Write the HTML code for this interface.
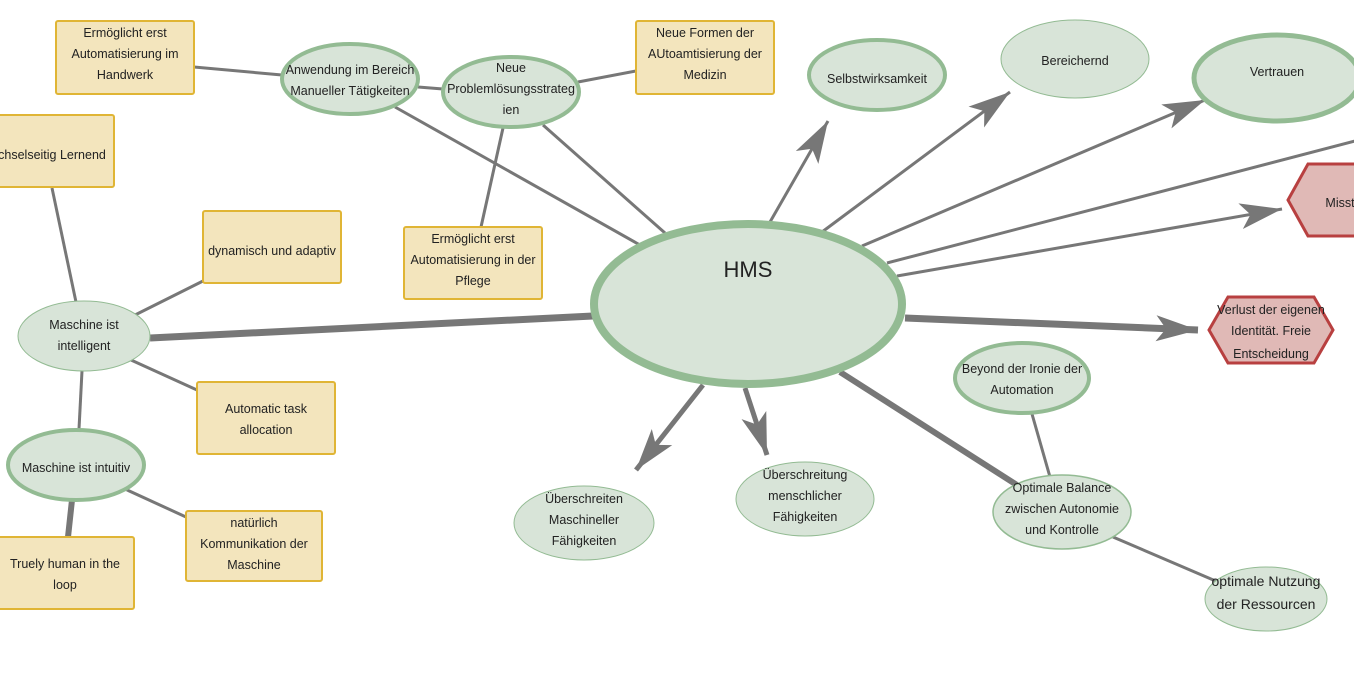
<!DOCTYPE html>
<html><head><meta charset="utf-8"><style>
html,body{margin:0;padding:0;background:#fff;}
svg{display:block;}
text{font-family:"Liberation Sans",sans-serif;font-size:12.5px;fill:#222;text-anchor:middle;}
</style></head><body>
<svg width="1359" height="700" viewBox="0 0 1359 700" xmlns="http://www.w3.org/2000/svg">
<defs>
<marker id="a" markerUnits="userSpaceOnUse" markerWidth="44" markerHeight="30" refX="42" refY="15" orient="auto" viewBox="0 0 44 30">
<path d="M0,2 L42,15 L0,28 L10,15 z" fill="#777"/>
</marker>
</defs>
<g stroke="#777" fill="none" stroke-linecap="butt">
<line x1="395" y1="107" x2="640" y2="245" stroke-width="3"/>
<line x1="543" y1="125" x2="665" y2="233" stroke-width="3"/>
<line x1="770" y1="222" x2="828" y2="121" stroke-width="3" marker-end="url(#a)"/>
<line x1="822" y1="232" x2="1010" y2="92" stroke-width="3" marker-end="url(#a)"/>
<line x1="862" y1="246" x2="1205" y2="100" stroke-width="3" marker-end="url(#a)"/>
<line x1="887" y1="263" x2="1359" y2="140" stroke-width="3"/>
<line x1="897" y1="276" x2="1282" y2="209" stroke-width="3" marker-end="url(#a)"/>
<line x1="905" y1="318" x2="1198" y2="330" stroke-width="7" marker-end="url(#a)"/>
<line x1="150" y1="338" x2="593" y2="316" stroke-width="7"/>
<line x1="703" y1="385" x2="636" y2="470" stroke-width="5" marker-end="url(#a)"/>
<line x1="745" y1="388" x2="767" y2="455" stroke-width="5" marker-end="url(#a)"/>
<line x1="840" y1="372" x2="1020" y2="487" stroke-width="6"/>
<line x1="194" y1="67" x2="282" y2="75" stroke-width="3"/>
<line x1="418" y1="87" x2="443" y2="89" stroke-width="3"/>
<line x1="578" y1="82" x2="636" y2="71" stroke-width="3"/>
<line x1="503" y1="128" x2="481" y2="227" stroke-width="3"/>
<line x1="52" y1="188" x2="76" y2="302" stroke-width="3"/>
<line x1="135" y1="315" x2="203" y2="281" stroke-width="3"/>
<line x1="131" y1="360" x2="197" y2="390" stroke-width="3"/>
<line x1="82" y1="371" x2="79" y2="429" stroke-width="3"/>
<line x1="125" y1="489" x2="186" y2="517" stroke-width="3"/>
<line x1="72" y1="500" x2="68" y2="537" stroke-width="6"/>
<line x1="1032" y1="414" x2="1050" y2="477" stroke-width="3"/>
<line x1="1113" y1="537" x2="1218" y2="582" stroke-width="3"/>
</g>
<g fill="#f3e5bd" stroke="#e0b535" stroke-width="2">
<rect x="56" y="21" width="138" height="73" rx="2"/>
<rect x="-10" y="115" width="124" height="72" rx="2"/>
<rect x="203" y="211" width="138" height="72" rx="2"/>
<rect x="404" y="227" width="138" height="72" rx="2"/>
<rect x="636" y="21" width="138" height="73" rx="2"/>
<rect x="197" y="382" width="138" height="72" rx="2"/>
<rect x="186" y="511" width="136" height="70" rx="2"/>
<rect x="-5" y="537" width="139" height="72" rx="2"/>
</g>
<g fill="#d8e4d8" stroke="#93bb93">
<ellipse cx="748" cy="304" rx="154" ry="80" stroke-width="8"/>
<ellipse cx="350" cy="79" rx="68" ry="35" stroke-width="4"/>
<ellipse cx="511" cy="92" rx="68" ry="35" stroke-width="4"/>
<ellipse cx="877" cy="75" rx="68" ry="35" stroke-width="4"/>
<ellipse cx="1277" cy="78" rx="83" ry="43" stroke-width="5"/>
<ellipse cx="76" cy="465" rx="68" ry="35" stroke-width="4"/>
<ellipse cx="1022" cy="378" rx="67" ry="35" stroke-width="4"/>
<ellipse cx="1075" cy="59" rx="74" ry="39" stroke-width="1"/>
<ellipse cx="84" cy="336" rx="66" ry="35" stroke-width="1"/>
<ellipse cx="584" cy="523" rx="70" ry="37" stroke-width="1"/>
<ellipse cx="805" cy="499" rx="69" ry="37" stroke-width="1"/>
<ellipse cx="1062" cy="512" rx="69" ry="37" stroke-width="1.5"/>
<ellipse cx="1266" cy="599" rx="61" ry="32" stroke-width="1"/>
</g>
<g fill="#e0b9b6" stroke="#b84040" stroke-width="3">
<polygon points="1288,200 1308,164 1365,164 1365,236 1308,236"/>
<polygon points="1209,330 1228,297 1314,297 1333,330 1314,363 1228,363"/>
</g>
<text x="748" y="277" style="font-size:22px">HMS</text>
<text x="125" y="37">Ermöglicht erst</text><text x="125" y="58">Automatisierung im</text><text x="125" y="79">Handwerk</text>
<text x="52" y="159">chselseitig Lernend</text>
<text x="272" y="255">dynamisch und adaptiv</text>
<text x="473" y="243">Ermöglicht erst</text><text x="473" y="264">Automatisierung in der</text><text x="473" y="285">Pflege</text>
<text x="705" y="37">Neue Formen der</text><text x="705" y="58">AUtoamtisierung der</text><text x="705" y="79">Medizin</text>
<text x="266" y="413">Automatic task</text><text x="266" y="434">allocation</text>
<text x="254" y="527">natürlich</text><text x="254" y="548">Kommunikation der</text><text x="254" y="569">Maschine</text>
<text x="65" y="568">Truely human in the</text><text x="65" y="589">loop</text>
<text x="350" y="74">Anwendung im Bereich</text><text x="350" y="95">Manueller Tätigkeiten</text>
<text x="511" y="72">Neue</text><text x="511" y="93">Problemlösungsstrateg</text><text x="511" y="114">ien</text>
<text x="877" y="83">Selbstwirksamkeit</text>
<text x="1075" y="65">Bereichernd</text>
<text x="1277" y="76">Vertrauen</text>
<text x="1340" y="207">Misst</text>
<text x="1271" y="314">Verlust der eigenen</text><text x="1271" y="335">Identität. Freie</text><text x="1271" y="358">Entscheidung</text>
<text x="84" y="329">Maschine ist</text><text x="84" y="350">intelligent</text>
<text x="76" y="472">Maschine ist intuitiv</text>
<text x="1022" y="373">Beyond der Ironie der</text><text x="1022" y="394">Automation</text>
<text x="584" y="503">Überschreiten</text><text x="584" y="524">Maschineller</text><text x="584" y="545">Fähigkeiten</text>
<text x="805" y="479">Überschreitung</text><text x="805" y="500">menschlicher</text><text x="805" y="521">Fähigkeiten</text>
<text x="1062" y="492">Optimale Balance</text><text x="1062" y="513">zwischen Autonomie</text><text x="1062" y="534">und Kontrolle</text>
<text x="1266" y="586" style="font-size:14px">optimale Nutzung</text><text x="1266" y="609" style="font-size:14px">der Ressourcen</text>
<rect x="1354" y="0" width="10" height="700" fill="#fff"/>
</svg>
</body></html>
